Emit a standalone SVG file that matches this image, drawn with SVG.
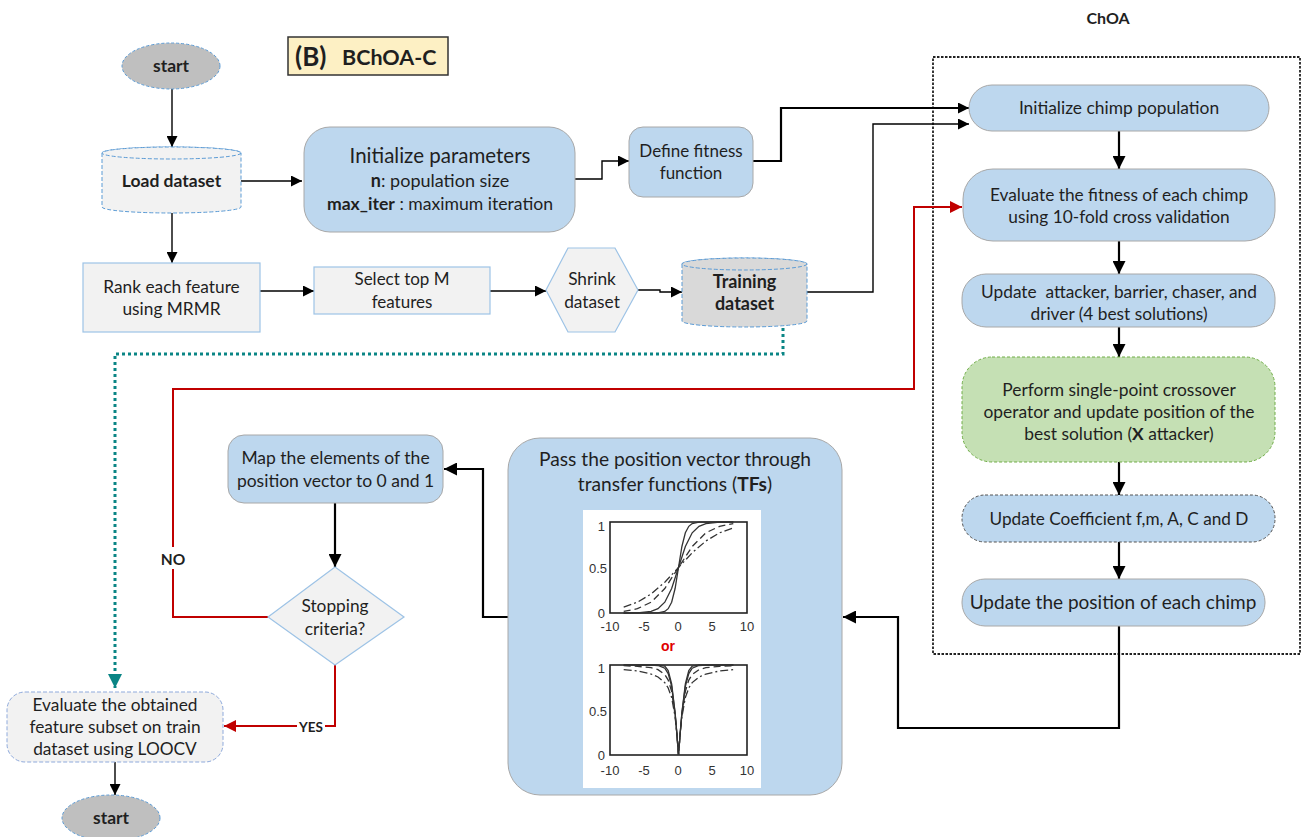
<svg xmlns="http://www.w3.org/2000/svg" width="1312" height="837" viewBox="0 0 1312 837">
<style>
text{font-family:Lato,"Open Sans","Liberation Sans",sans-serif;fill:#1f1f1f;text-anchor:middle}
.b{font-weight:bold}
.blue{fill:#bdd7ee;stroke:#a8a8a8;stroke-width:1}
.grey{fill:#f2f2f2;stroke:#9dc3e6;stroke-width:1.2}
.cyl{stroke:#5b9bd5;stroke-width:1;stroke-dasharray:4 2}
.c{fill:none;stroke:#000;stroke-width:1.4}
.ct{fill:none;stroke:#000;stroke-width:2.2}
.red{fill:none;stroke:#c00000;stroke-width:2}
.teal{fill:none;stroke:#0a8585;stroke-width:3;stroke-dasharray:3 3}
.ax{fill:none;stroke:#222;stroke-width:1.6}
.cv{fill:none;stroke:#333;stroke-width:1.3}
.tk{font-family:"Liberation Sans",Arial,sans-serif;font-size:13px;fill:#333}
</style>
<defs>
<marker id="ah" viewBox="0 0 10 10" refX="10" refY="5" markerUnits="userSpaceOnUse" markerWidth="11" markerHeight="11" orient="auto"><path d="M0,0 L10,5 L0,10 z" fill="#000"/></marker>
<marker id="ahb" viewBox="0 0 10 10" refX="10" refY="5" markerUnits="userSpaceOnUse" markerWidth="13" markerHeight="13" orient="auto"><path d="M0,0 L10,5 L0,10 z" fill="#000"/></marker>
<marker id="ahr" viewBox="0 0 10 10" refX="10" refY="5" markerUnits="userSpaceOnUse" markerWidth="12" markerHeight="12" orient="auto"><path d="M0,0 L10,5 L0,10 z" fill="#c00000"/></marker>
<marker id="aht" viewBox="0 0 10 10" refX="10" refY="5" markerUnits="userSpaceOnUse" markerWidth="14" markerHeight="14" orient="auto"><path d="M0,0 L10,5 L0,10 z" fill="#0a8585"/></marker>
</defs>
<rect width="1312" height="837" fill="#fff"/>

<g id="choa-box">
<rect x="933" y="57" width="367" height="597" fill="none" stroke="#222" stroke-width="1.8" stroke-dasharray="2.5 1.5"/>
<text x="1108" y="24" class="b" font-size="16">ChOA</text>
</g>

<g id="title">
<rect x="288" y="37" width="160" height="38" fill="#fdf0c4" stroke="#333" stroke-width="1.5"/>
<text x="295" y="66" class="b" font-size="26" style="text-anchor:start">(B)</text>
<text x="342" y="65" class="b" font-size="21.5" style="text-anchor:start">BChOA-C</text>
</g>

<g id="connectors">
<path class="c" d="M172,89 V147" marker-end="url(#ah)"/>
<path class="c" d="M241,181 H302" marker-end="url(#ah)"/>
<path class="c" d="M575,179 H602 V161 H629" marker-end="url(#ah)"/>
<path class="ct" d="M753,161 H781 V108 H969" marker-end="url(#ah)"/>
<path class="c" d="M807,292 H873 V124 H969" marker-end="url(#ah)"/>
<path class="c" d="M172,213 V263" marker-end="url(#ah)"/>
<path class="c" d="M260,291 H314" marker-end="url(#ah)"/>
<path class="c" d="M490,291 H546" marker-end="url(#ah)"/>
<path class="c" d="M638,290 H660 V292 H682" marker-end="url(#ah)"/>
<path class="ct" d="M1119,131 V169" marker-end="url(#ahb)"/>
<path class="ct" d="M1119,241 V274" marker-end="url(#ahb)"/>
<path class="ct" d="M1119,327 V357" marker-end="url(#ahb)"/>
<path class="ct" d="M1119,462 V495" marker-end="url(#ahb)"/>
<path class="ct" d="M1119,542 V579" marker-end="url(#ahb)"/>
<path class="ct" d="M1119,626 V728 H898 V617 H843" marker-end="url(#ahb)"/>
<path class="ct" d="M508,617 H483 V469 H444" marker-end="url(#ahb)"/>
<path class="ct" d="M335,503 V567" marker-end="url(#ahb)"/>
<path class="red" d="M268,617 H173 V389 H914 V207 H962" marker-end="url(#ahr)"/>
<path class="red" d="M335,665 V726 H224" marker-end="url(#ahr)"/>
<path class="teal" d="M783,328 V354 H115 V688" marker-end="url(#aht)"/>
<path class="c" d="M115,762 V795" marker-end="url(#ah)"/>
<rect x="158" y="547" width="31" height="22" fill="#fff"/>
<text x="173" y="565" class="b" font-size="15.5">NO</text>
<rect x="297" y="717" width="28" height="19" fill="#fff"/>
<text x="311" y="732" class="b" font-size="13.5">YES</text>
</g>

<g id="start">
<ellipse cx="171" cy="66" rx="49" ry="23" fill="#bfbfbf" stroke="#5b9bd5" stroke-dasharray="3 2"/>
<text x="171" y="72" class="b" font-size="17.5">start</text>
</g>

<g id="load-dataset">
<path class="cyl" fill="#f2f2f2" d="M102,153 V207 A69.5,6 0 0 0 241,207 V153 A69.5,6 0 0 0 102,153 Z"/>
<ellipse class="cyl" fill="#f2f2f2" cx="171.5" cy="153" rx="69.5" ry="6"/>
<text x="171.5" y="187" class="b" font-size="17.5">Load dataset</text>
</g>

<g id="init-params">
<rect class="blue" x="304" y="127" width="271" height="105" rx="26"/>
<text x="440" y="163" font-size="20.5">Initialize parameters</text>
<text x="440" y="187" font-size="18"><tspan class="b">n</tspan>: population size</text>
<text x="440" y="210" font-size="17.6"><tspan class="b">max_iter</tspan> : maximum iteration</text>
</g>

<g id="define-fitness">
<rect class="blue" x="629" y="127" width="124" height="70" rx="14"/>
<text x="691" y="157" font-size="17">Define fitness</text>
<text x="691" y="179" font-size="17">function</text>
</g>

<g id="rank">
<rect class="grey" x="83" y="263" width="177" height="69"/>
<text x="171.5" y="293" font-size="17.3">Rank each feature</text>
<text x="171.5" y="315" font-size="17.3">using MRMR</text>
</g>

<g id="select">
<rect class="grey" x="314" y="267" width="176" height="47"/>
<text x="402" y="285" font-size="17">Select top M</text>
<text x="402" y="308" font-size="17">features</text>
</g>

<g id="shrink">
<polygon class="grey" points="546,290 568,248 615,248 638,290 615,332 568,332"/>
<text x="592" y="285" font-size="17.3">Shrink</text>
<text x="592" y="308" font-size="17.3">dataset</text>
</g>

<g id="training">
<path class="cyl" fill="#d9d9d9" d="M682,264 V321 A62.5,6 0 0 0 807,321 V264 A62.5,6 0 0 0 682,264 Z"/>
<ellipse class="cyl" fill="#d9d9d9" cx="744.5" cy="264" rx="62.5" ry="6"/>
<text x="744.5" y="288" class="b" font-size="18">Training</text>
<text x="744.5" y="310" class="b" font-size="18">dataset</text>
</g>

<g id="init-chimp">
<rect class="blue" x="969" y="85" width="300" height="46" rx="23"/>
<text x="1119" y="114" font-size="17.4">Initialize chimp population</text>
</g>

<g id="eval-fitness">
<rect class="blue" x="963" y="169" width="312" height="72" rx="30"/>
<text x="1119" y="201" font-size="17.3">Evaluate the fitness of each chimp</text>
<text x="1119" y="223" font-size="17.3">using 10-fold cross validation</text>
</g>

<g id="update-leaders">
<rect class="blue" x="962" y="274" width="313" height="53" rx="24"/>
<text x="1119" y="298" font-size="17.3" xml:space="preserve">Update  attacker, barrier, chaser, and</text>
<text x="1119" y="320" font-size="17.3">driver (4 best solutions)</text>
</g>

<g id="crossover">
<rect x="962" y="357" width="313" height="105" rx="30" fill="#c5e0b4" stroke="#70ad47" stroke-width="1" stroke-dasharray="3 2"/>
<text x="1119" y="396" font-size="17.4">Perform single-point crossover</text>
<text x="1119" y="418" font-size="17.4">operator and update position of the</text>
<text x="1119" y="440" font-size="17.4">best solution (<tspan class="b">X</tspan> attacker)</text>
</g>

<g id="update-coef">
<rect x="962" y="495" width="313" height="47" rx="23" fill="#bdd7ee" stroke="#555" stroke-width="1" stroke-dasharray="3 2"/>
<text x="1119" y="525" font-size="17.2">Update Coefficient f,m, A, C and D</text>
</g>

<g id="update-pos">
<rect class="blue" x="962" y="579" width="303" height="47" rx="23"/>
<text x="1113" y="609" font-size="19">Update the position of each chimp</text>
</g>

<g id="transfer">
<rect class="blue" x="508" y="438" width="334" height="357" rx="32"/>
<text x="675" y="466" font-size="19.2">Pass the position vector through</text>
<text x="675" y="491" font-size="19.2">transfer functions (<tspan class="b">TFs</tspan>)</text>
<rect x="583" y="510" width="178" height="278" fill="#fff"/>
<rect class="ax" x="610" y="522" width="137" height="91"/>
<text class="tk" x="605" y="531" style="text-anchor:end">1</text>
<text class="tk" x="607" y="573" style="text-anchor:end">0.5</text>
<text class="tk" x="605" y="618" style="text-anchor:end">0</text>
<text class="tk" x="610" y="631">-10</text>
<text class="tk" x="644" y="631">-5</text>
<text class="tk" x="678" y="631">0</text>
<text class="tk" x="712" y="631">5</text>
<text class="tk" x="747" y="631">10</text>
<polyline class="cv" points="623.7,613 658,612.8 664.8,611.4 668.2,608.7 671.65,602.2 675.1,588.5 678.5,567.5 681.9,546.5 685.35,532.8 688.8,526.3 692.2,523.6 699,522.2 733.3,522"/>
<polyline class="cv" points="623.7,613 637.4,612.8 651.1,611.4 658,608.7 664.8,602.2 671.65,588.5 678.5,567.5 685.35,546.5 692.2,532.8 699,526.3 705.9,523.6 719.6,522.2 733.3,522"/>
<polyline class="cv" stroke-dasharray="7 4" points="623.7,611.4 637.4,608.7 651.1,602.2 664.8,588.5 678.5,567.5 692.2,546.5 705.9,532.8 719.6,526.3 733.3,523.6"/>
<polyline class="cv" stroke-dasharray="8 3 2 3" points="623.7,607.1 637.4,602.2 651.1,594 664.8,582.2 678.5,567.5 692.2,552.8 705.9,541 719.6,532.8 733.3,527.9"/>
<text x="668" y="651" class="b" font-size="14" style="fill:#e00000;font-family:'Liberation Sans',Arial,sans-serif">or</text>
<rect class="ax" x="610" y="665" width="137" height="90"/>
<text class="tk" x="605" y="673" style="text-anchor:end">1</text>
<text class="tk" x="607" y="716" style="text-anchor:end">0.5</text>
<text class="tk" x="605" y="760" style="text-anchor:end">0</text>
<text class="tk" x="610" y="775">-10</text>
<text class="tk" x="644" y="775">-5</text>
<text class="tk" x="678" y="775">0</text>
<text class="tk" x="712" y="775">5</text>
<text class="tk" x="747" y="775">10</text>
<polyline class="cv" points="623.7,665 658,665 664.8,666.1 668.2,670.5 671.65,683.9 675.1,712.8 676.8,732.9 678.5,755 680.2,732.9 681.9,712.8 685.35,683.9 688.8,670.5 692.2,666.1 699,665 733.3,665"/>
<polyline class="cv" points="623.7,665 651.1,665.1 658,665.5 664.8,668.2 668.2,673.6 671.65,686.4 675.1,713.4 676.8,733 678.5,755 680.2,733 681.9,713.4 685.35,686.4 688.8,673.6 692.2,668.2 699,665.5 705.9,665.1 733.3,665"/>
<polyline class="cv" stroke-dasharray="7 4" points="623.7,665.7 637.4,666.3 651.1,667.7 658,669.6 664.8,674.5 668.2,680.1 671.65,691.4 675.1,714.8 676.8,733.2 678.5,755 680.2,733.2 681.9,714.8 685.35,691.4 688.8,680.1 692.2,674.5 699,669.6 705.9,667.7 719.6,666.3 733.3,665.7"/>
<polyline class="cv" stroke-dasharray="8 3 2 3" points="623.7,669.6 637.4,671 651.1,674 658,677 664.8,682.6 668.2,688 671.65,697.5 675.1,716.8 676.8,733.6 678.5,755 680.2,733.6 681.9,716.8 685.35,697.5 688.8,688 692.2,682.6 699,677 705.9,674 719.6,671 733.3,669.6"/>
</g>

<g id="map">
<rect class="blue" x="228" y="435" width="215" height="68" rx="16"/>
<text x="335.5" y="464" font-size="17.5">Map the elements of the</text>
<text x="335.5" y="487" font-size="17.5">position vector to 0 and 1</text>
</g>

<g id="stopping">
<polygon class="grey" points="335,567 404,617 335,665 268,617"/>
<text x="335" y="612" font-size="17.3">Stopping</text>
<text x="335" y="635" font-size="17.3">criteria?</text>
</g>

<g id="evaluate-subset">
<rect x="7" y="692" width="216" height="70" rx="18" fill="#f2f2f2" stroke="#8faadc" stroke-width="1" stroke-dasharray="4 2"/>
<text x="115" y="711" font-size="17.3">Evaluate the obtained</text>
<text x="115" y="733" font-size="17.3">feature subset on train</text>
<text x="115" y="755" font-size="17.3">dataset using LOOCV</text>
</g>

<g id="end">
<ellipse cx="111" cy="818" rx="49" ry="23" fill="#bfbfbf" stroke="#5b9bd5" stroke-dasharray="3 2"/>
<text x="111" y="824" class="b" font-size="17.5">start</text>
</g>
</svg>
